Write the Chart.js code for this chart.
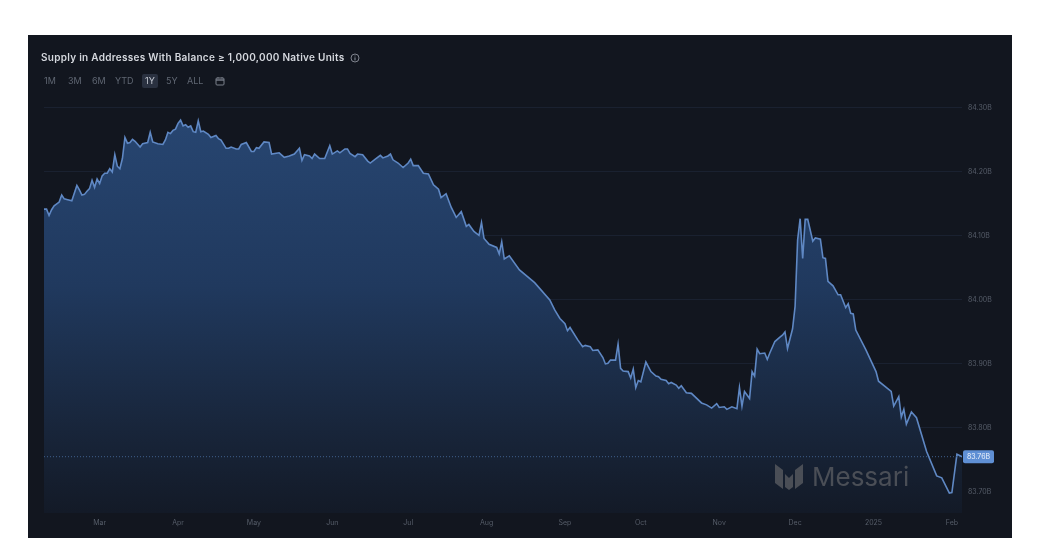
<!DOCTYPE html>
<html lang="en">
<head>
  <meta charset="UTF-8">
  <title>Supply in Addresses With Balance ≥ 1,000,000 Native Units</title>
  <script src="https://cdn.jsdelivr.net/npm/chart.js"></script>
  <style>
    html, body { margin: 0; padding: 0; background: #fff; width: 1055px; height: 548px; overflow: hidden; font-family: Inter, sans-serif; }
    .panel { position: absolute; left: 28px; top: 35px; width: 984px; height: 503px; background: #12161f; }
    canvas { position: absolute; left: 0; top: 0; }
    .title { position: absolute; left: 13px; top: 16px; font-size: 10px; font-weight: 600; color: #d5d8de; letter-spacing: 0.28px; white-space: nowrap; }
    .title svg { vertical-align: -2px; margin-left: 3px; }
    .ranges { position: absolute; left: 13px; top: 39px; display: flex; font-size: 9px; color: #5f6672; }
    .ranges span { position: absolute; top: 0; white-space: nowrap; line-height: 14px; padding: 0 3px; border-radius: 2px; }
    .ranges span.on { background: #2a3140; color: #c3c8d1; }
    .ranges svg { position: absolute; top: 2px; }
    .logo { position: absolute; left: 747px; top: 426px; display: flex; align-items: center; color: #4a4e56; font-size: 26px; font-weight: 400; }
    .logo svg { margin-right: 9px; }
  </style>
</head>
<body>
  <div class="panel">
    <canvas id="supplyChart" width="984" height="503"></canvas>
    <div class="title">Supply in Addresses With Balance ≥ 1,000,000 Native Units
      <svg width="10" height="10" viewBox="0 0 10 10"><circle cx="5" cy="5" r="4" fill="none" stroke="#9aa0aa" stroke-width="0.8"/><path d="M5 4.4V7.4M5 2.6V3.4" stroke="#9aa0aa" stroke-width="0.9"/></svg>
    </div>
    <div class="ranges">
      <span style="left:0">1M</span>
      <span style="left:24px">3M</span>
      <span style="left:48px">6M</span>
      <span style="left:71px">YTD</span>
      <span class="on" style="left:101px">1Y</span>
      <span style="left:122px">5Y</span>
      <span style="left:143px">ALL</span>
      <svg style="left:174px" width="10" height="10" viewBox="0 0 10 10"><rect x="1" y="2" width="8" height="7" rx="1" fill="none" stroke="#7a808b" stroke-width="1"/><path d="M1 4H9" stroke="#7a808b" stroke-width="1.4"/><path d="M3 1V2.5M7 1V2.5" stroke="#7a808b" stroke-width="0.9"/></svg>
    </div>
    <div class="logo">
      <svg width="28" height="27" viewBox="0 0 28 27"><path d="M0 1L8 7V26L0 20ZM28 1L20 7V26L28 20ZM10 11L14 15L18 11V24L14 27L10 24Z" fill="#4a4e56"/></svg>
      Messari
    </div>
  </div>

  <script>
    // days counted from 1 Mar 2024
    const days = [
      -22,-21,-20,-19,-18,-16,-15,-14,-13,-11,-9,-8,-7,-6,-5,-4,-3,-2,-1,0,
      1,2,3,4,5,6,7,8,9,10,11,12,13,14,16,17,19,20,21,23,25,26,27,28,29,30,
      31,32,33,34,35,36,37,38,39,40,41,43,44,46,47,48,50,51,52,54,55,56,58,60,
      61,62,63,65,67,68,71,73,75,77,79,80,81,83,84,85,87,89,91,92,94,95,97,98,99,
      101,102,104,106,107,109,111,112,114,115,116,118,120,122,123,124,126,128,130,
      132,134,135,137,139,141,143,145,146,148,150,151,152,154,157,158,159,160,162,
      166,172,178,180,182,184,185,186,189,191,192,194,195,197,199,200,201,202,204,
      205,206,207,209,210,211,212,213,214,216,218,220,221,222,224,225,226,228,229,
      230,232,234,238,240,242,244,245,247,248,250,252,253,254,255,257,258,259,260,
      261,263,264,265,267,269,270,271,272,274,275,276,277,278,279,280,282,283,285,
      286,287,288,290,292,293,295,296,297,298,299,303,307,308,313,314,316,317,318,
      319,321,323,327,331,333,336,337,339,341
    ];
    // supply, billions
    const supply = [
      84.142,84.142,84.132,84.141,84.147,84.153,84.164,84.158,84.157,84.155,84.179,84.172,84.164,84.165,84.170,84.174,84.187,84.176,84.189,84.182,
      84.194,84.198,84.198,84.205,84.200,84.227,84.209,84.205,84.221,84.254,84.245,84.246,84.251,84.248,84.239,84.244,84.246,84.262,84.247,84.244,84.243,84.250,84.262,84.260,84.265,84.267,
      84.276,84.281,84.272,84.274,84.270,84.272,84.263,84.262,84.280,84.263,84.264,84.259,84.254,84.257,84.252,84.250,84.237,84.237,84.239,84.236,84.236,84.243,84.246,84.232,
      84.232,84.238,84.237,84.247,84.246,84.228,84.230,84.223,84.225,84.228,84.237,84.218,84.227,84.225,84.221,84.228,84.221,84.221,84.241,84.228,84.233,84.230,84.236,84.236,84.229,
      84.224,84.228,84.227,84.217,84.214,84.220,84.226,84.222,84.225,84.228,84.219,84.214,84.207,84.214,84.220,84.210,84.210,84.198,84.197,
      84.180,84.173,84.160,84.166,84.145,84.129,84.138,84.115,84.118,84.107,84.101,84.121,84.096,84.087,84.082,84.072,84.091,84.064,84.069,
      84.047,84.027,84.000,83.984,83.971,83.963,83.952,83.957,83.938,83.927,83.929,83.927,83.921,83.922,83.910,83.900,83.901,83.906,83.906,
      83.931,83.893,83.889,83.888,83.878,83.892,83.863,83.874,83.872,83.903,83.888,83.881,83.880,83.876,83.874,83.869,83.871,83.867,83.862,
      83.866,83.855,83.854,83.839,83.836,83.831,83.838,83.832,83.833,83.829,83.833,83.830,83.863,83.834,83.857,83.846,83.888,83.881,83.923,
      83.916,83.917,83.907,83.917,83.935,83.942,83.945,83.950,83.924,83.955,83.990,84.094,84.127,84.065,84.126,84.126,84.092,84.097,84.095,
      84.066,84.065,84.029,84.022,84.008,84.008,83.988,83.994,83.979,83.978,83.953,83.922,83.888,83.873,83.857,83.834,83.849,83.817,83.829,
      83.806,83.825,83.816,83.763,83.725,83.722,83.698,83.699,83.759,83.755
    ];
    const monthLabels = ['Mar','Apr','May','Jun','Jul','Aug','Sep','Oct','Nov','Dec','2025','Feb'];
    const monthDays = [0,31,61,92,122,153,184,214,245,275,306,337];
    const yTicks = [83.7,83.8,83.9,84.0,84.1,84.2,84.3];
    const lastValue = 83.755;
    const lastLabel = '83.76B';

    // little blue tag at the end of the dotted last-value line
    const lastValueTag = {
      id: 'lastValueTag',
      afterDraw(chart) {
        const { ctx, chartArea, scales } = chart;
        const y = scales.y.getPixelForValue(lastValue);
        const x = chartArea.right + 1;
        ctx.save();
        ctx.fillStyle = '#5f8fd4';
        ctx.beginPath();
        ctx.roundRect(x, y - 6.5, 31, 13, 2);
        ctx.fill();
        ctx.fillStyle = '#eef3fb';
        ctx.font = '7px Inter';
        ctx.textAlign = 'center';
        ctx.textBaseline = 'middle';
        ctx.fillText(lastLabel, x + 15.5, y + 0.5);
        ctx.restore();
      }
    };

    const ctx = document.getElementById('supplyChart').getContext('2d');
    new Chart(ctx, {
      type: 'line',
      data: {
        datasets: [
          {
            order: 2,
            data: days.map((d, i) => ({ x: d, y: supply[i] })),
            borderColor: '#5f88c4',
            borderWidth: 1.6,
            pointRadius: 0,
            tension: 0,
            fill: 'start',
            backgroundColor(c) {
              const area = c.chart.chartArea;
              if (!area) return '#1f3a60';
              const g = c.chart.ctx.createLinearGradient(0, area.top, 0, area.bottom);
              g.addColorStop(0, '#284773');
              g.addColorStop(0.45, '#20395e');
              g.addColorStop(0.8, '#18253a');
              g.addColorStop(1, '#131a27');
              return g;
            }
          },
          {
            order: 1,
            data: [{ x: days[0], y: lastValue }, { x: days[days.length - 1], y: lastValue }],
            borderColor: '#3f5f8d',
            borderWidth: 1,
            borderDash: [1, 2],
            pointRadius: 0,
            fill: false
          }
        ]
      },
      options: {
        responsive: false,
        animation: false,
        layout: { padding: { left: 16, top: 65, right: 0, bottom: 0 } },
        plugins: { legend: { display: false }, tooltip: { enabled: false } },
        scales: {
          x: {
            type: 'linear',
            min: days[0],
            max: days[days.length - 1],
            border: { display: false },
            grid: { display: false, drawTicks: false },
            afterBuildTicks(axis) { axis.ticks = monthDays.map(v => ({ value: v })); },
            afterFit(axis) { axis.height = 25; },
            ticks: {
              autoSkip: false,
              maxRotation: 0,
              padding: 6,
              color: '#565d69',
              font: { family: 'Inter', size: 7 },
              callback: v => monthLabels[monthDays.indexOf(v)]
            }
          },
          y: {
            position: 'right',
            min: 83.667,
            max: 84.3125,
            border: { display: false },
            grid: { color: '#1a2130', lineWidth: 1, drawTicks: false },
            afterBuildTicks(axis) { axis.ticks = yTicks.map(v => ({ value: v })); },
            afterFit(axis) { axis.width = 50; },
            ticks: {
              padding: 6,
              color: '#565d69',
              font: { family: 'Inter', size: 7 },
              callback: v => v.toFixed(2) + 'B'
            }
          }
        }
      },
      plugins: [lastValueTag]
    });
  </script>
</body>
</html>
